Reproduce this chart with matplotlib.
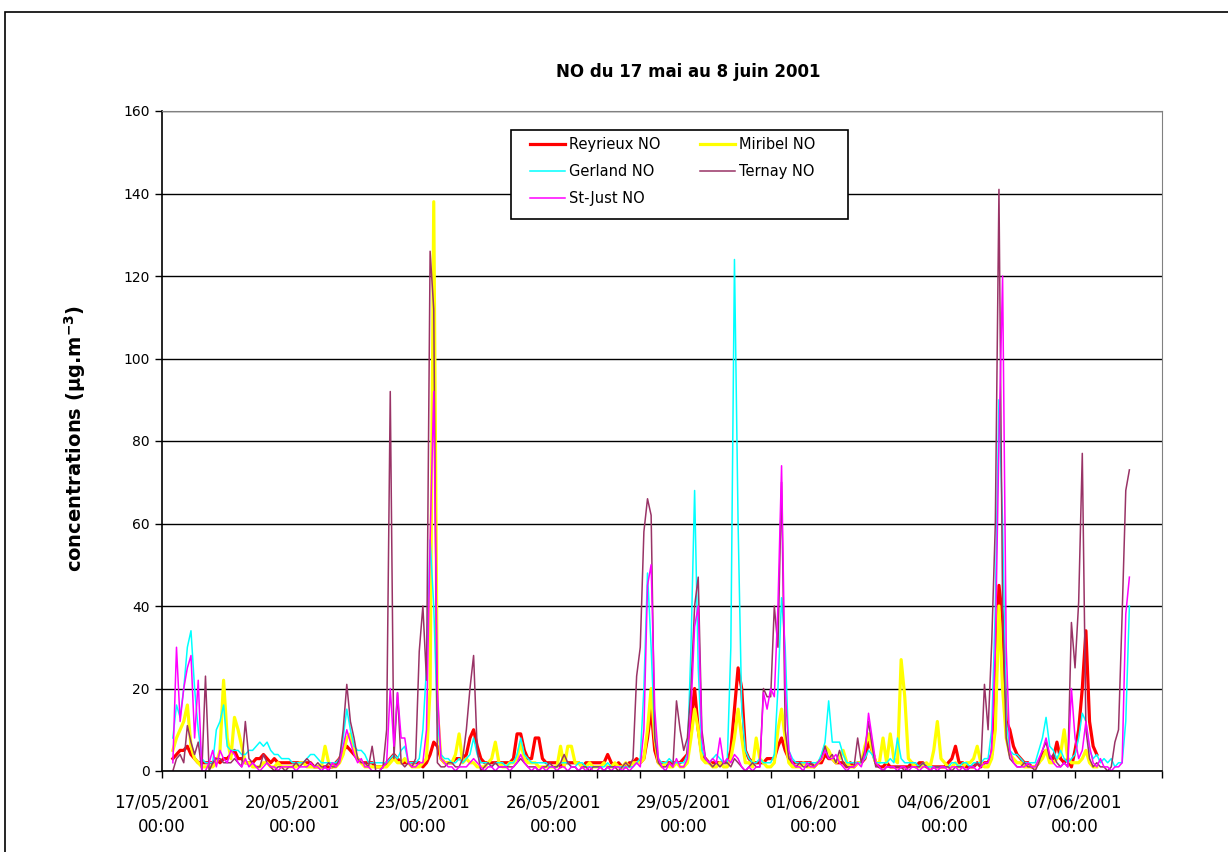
import numpy as np
import matplotlib
matplotlib.use("Agg")
import matplotlib.pyplot as plt
from matplotlib.patches import Rectangle
from matplotlib.ticker import MultipleLocator

nan = np.nan

# 2-hourly NO values (µg/m3), one row per day starting 17/05/2001 00:00
reyrieux = [
    nan, nan, nan, 3, 4, 5, 5, 6, 4, 3, 2, 2,
    2, 2, 2, 3, 2, 3, 3, 4, 5, 3, 3, 2,
    2, 2, 3, 3, 4, 3, 2, 3, 2, 2, 2, 2,
    2, 2, 2, 2, 2, 2, 1, 1, 1, 1, 1, 1,
    2, 3, 5, 6, 5, 4, 3, 2, 2, 2, 2, 1,
    1, 1, 2, 3, 4, 3, 2, 2, 2, 2, 2, 2,
    1, 2, 4, 7, 6, 3, 2, 2, 2, 3, 3, 3,
    4, 8, 10, 6, 3, 2, 2, 2, 2, 2, 2, 2,
    2, 3, 9, 9, 5, 3, 3, 8, 8, 3, 2, 2,
    2, 2, 1, 2, 2, 2, 2, 2, 1, 2, 2, 2,
    2, 2, 2, 4, 2, 1, 2, 1, 1, 2, 2, 3,
    2, 3, 8, 15, 5, 2, 2, 2, 2, 2, 2, 2,
    3, 4, 12, 20, 10, 4, 3, 2, 2, 2, 2, 2,
    2, 5, 15, 25, 20, 5, 3, 2, 2, 2, 2, 3,
    3, 3, 6, 8, 5, 3, 2, 2, 2, 2, 2, 2,
    1, 2, 2, 4, 3, 3, 2, 2, 2, 1, 2, 1,
    2, 2, 3, 7, 5, 2, 1, 1, 2, 1, 1, 1,
    1, 1, 1, 2, 1, 2, 2, 1, 1, 1, 1, 1,
    1, 2, 3, 6, 2, 2, 1, 1, 1, 2, 1, 2,
    2, 4, 15, 45, 37, 12, 10, 6, 4, 3, 2, 2,
    1, 1, 2, 4, 5, 3, 3, 7, 3, 2, 3, 1,
    5, 10, 20, 34, 12, 6, 4, nan, nan, nan, nan, nan,
    nan, nan, nan, nan,
]
miribel = [
    nan, nan, nan, 5, 8, 10, 12, 16, 6, 3, 2, 1,
    1, 1, 1, 2, 5, 22, 8, 3, 13, 10, 6, 2,
    2, 1, 1, 1, 2, 2, 1, 1, 2, 1, 1, 1,
    1, 1, 2, 2, 1, 1, 1, 1, 1, 6, 2, 1,
    1, 2, 4, 8, 9, 5, 3, 2, 1, 1, 1, 1,
    1, 1, 1, 2, 3, 2, 2, 3, 2, 1, 1, 1,
    2, 3, 20, 138, 15, 3, 2, 2, 2, 4, 9, 2,
    3, 2, 2, 1, 1, 1, 2, 3, 7, 2, 1, 1,
    2, 2, 3, 7, 3, 2, 2, 2, 1, 1, 1, 1,
    1, 1, 6, 1, 6, 6, 2, 2, 1, 1, 2, 1,
    1, 1, 2, 1, 1, 2, 1, 1, 2, 1, 2, 2,
    2, 3, 10, 20, 8, 2, 1, 2, 1, 1, 2, 1,
    1, 2, 8, 15, 10, 3, 2, 2, 1, 1, 2, 1,
    1, 3, 8, 15, 8, 2, 2, 1, 8, 3, 2, 1,
    1, 2, 10, 15, 8, 2, 1, 1, 1, 2, 1, 1,
    1, 2, 3, 6, 5, 3, 2, 3, 5, 2, 1, 1,
    2, 2, 6, 9, 5, 2, 2, 8, 2, 9, 3, 2,
    27, 18, 3, 2, 1, 1, 1, 2, 1, 5, 12, 3,
    2, 1, 1, 2, 1, 1, 2, 2, 3, 6, 2, 1,
    1, 3, 10, 40, 20, 8, 4, 3, 2, 2, 1, 1,
    1, 1, 2, 3, 5, 2, 2, 3, 4, 10, 3, 2,
    2, 2, 3, 5, 2, 1, 1, nan, nan, nan, nan, nan,
    nan, nan, nan, nan,
]
gerland = [
    nan, nan, nan, 8, 16, 13, 20, 30, 34, 20, 10, 3,
    2, 2, 2, 10, 12, 16, 6, 5, 5, 5, 4, 4,
    5, 5, 6, 7, 6, 7, 5, 4, 4, 3, 3, 3,
    2, 2, 2, 2, 3, 4, 4, 3, 2, 2, 2, 2,
    2, 3, 8, 15, 10, 6, 5, 5, 4, 2, 2, 2,
    2, 2, 2, 3, 4, 3, 5, 6, 2, 2, 2, 3,
    10, 25, 56, 40, 12, 4, 3, 3, 2, 2, 3, 2,
    3, 4, 8, 4, 2, 2, 2, 1, 2, 2, 2, 1,
    2, 2, 4, 8, 4, 3, 2, 2, 2, 2, 2, 1,
    1, 1, 2, 2, 2, 1, 1, 2, 2, 1, 1, 1,
    1, 1, 1, 2, 1, 1, 1, 1, 1, 1, 1, 2,
    3, 20, 48, 30, 8, 3, 2, 2, 3, 2, 2, 2,
    2, 4, 30, 68, 25, 5, 3, 2, 3, 4, 3, 2,
    2, 30, 124, 60, 15, 5, 3, 2, 2, 3, 2, 2,
    2, 4, 20, 42, 30, 5, 3, 2, 2, 2, 2, 2,
    2, 2, 4, 7, 17, 7, 7, 7, 4, 2, 2, 2,
    2, 2, 3, 5, 4, 2, 2, 2, 2, 3, 2, 8,
    3, 2, 2, 2, 2, 1, 2, 1, 1, 1, 1, 1,
    1, 1, 2, 2, 1, 2, 2, 1, 2, 2, 2, 3,
    3, 10, 40, 90, 60, 12, 5, 4, 4, 3, 2, 2,
    2, 2, 5, 8, 13, 6, 5, 3, 5, 3, 2, 3,
    4, 8, 14, 12, 5, 3, 4, 2, 3, 2, 3, 1,
    2, 2, 12, 40,
]
ternay = [
    nan, nan, nan, 0, 3, 4, 2, 11, 7, 4, 7, 0,
    23, 0, 2, 3, 3, 2, 2, 2, 3, 2, 1, 12,
    3, 2, 1, 1, 4, 2, 1, 0, 1, 1, 0, 1,
    1, 2, 1, 2, 3, 2, 1, 2, 1, 1, 2, 1,
    1, 3, 10, 21, 12, 8, 3, 2, 2, 1, 6, 0,
    0, 1, 10, 92, 3, 19, 2, 1, 2, 1, 3, 29,
    40, 22, 126, 112, 2, 1, 1, 2, 2, 1, 1, 3,
    10, 20, 28, 5, 0, 1, 2, 1, 2, 1, 1, 1,
    1, 1, 2, 3, 2, 1, 1, 1, 0, 1, 1, 2,
    1, 1, 2, 4, 2, 1, 1, 0, 1, 1, 0, 1,
    1, 1, 0, 1, 1, 1, 0, 1, 2, 1, 3, 23,
    30, 58, 66, 62, 8, 2, 1, 1, 2, 1, 17, 10,
    5, 8, 20, 40, 47, 10, 3, 2, 1, 2, 1, 2,
    2, 1, 3, 2, 1, 0, 1, 2, 1, 1, 20, 18,
    18, 40, 30, 70, 10, 3, 2, 1, 2, 1, 1, 2,
    1, 2, 3, 6, 3, 4, 2, 5, 2, 1, 1, 1,
    8, 2, 5, 12, 6, 1, 1, 0, 1, 1, 1, 1,
    1, 0, 1, 1, 1, 1, 2, 1, 0, 1, 1, 1,
    1, 1, 0, 1, 1, 1, 0, 1, 1, 2, 1, 21,
    10, 31, 60, 141, 40, 8, 3, 2, 1, 1, 2, 1,
    1, 0, 2, 5, 7, 3, 4, 2, 1, 2, 1, 36,
    25, 41, 77, 10, 3, 1, 2, 1, 1, 0, 1, 7,
    10, 38, 68, 73,
]
st_just = [
    nan, nan, nan, 2, 30, 12, 20, 25, 28, 8, 22, 0,
    0, 2, 5, 1, 5, 3, 2, 5, 4, 2, 1, 3,
    1, 2, 1, 0, 1, 2, 1, 1, 0, 1, 1, 1,
    1, 0, 1, 1, 1, 2, 1, 1, 0, 1, 0, 2,
    1, 2, 6, 10, 7, 4, 2, 3, 1, 1, 0, 0,
    0, 1, 2, 20, 6, 19, 8, 8, 2, 1, 1, 2,
    2, 10, 56, 92, 20, 3, 2, 1, 1, 0, 1, 1,
    1, 2, 3, 2, 1, 0, 1, 1, 0, 1, 1, 1,
    0, 1, 2, 4, 2, 1, 0, 1, 0, 1, 0, 1,
    1, 0, 1, 1, 0, 1, 1, 0, 1, 0, 1, 0,
    0, 1, 0, 1, 0, 1, 1, 0, 1, 0, 1, 2,
    1, 10, 45, 50, 15, 3, 1, 0, 2, 1, 3, 1,
    1, 3, 15, 35, 40, 8, 3, 2, 3, 2, 8, 2,
    3, 2, 4, 3, 1, 0, 1, 0, 1, 1, 19, 15,
    20, 18, 40, 74, 20, 5, 2, 1, 1, 0, 2, 1,
    1, 2, 3, 5, 3, 3, 4, 2, 1, 0, 1, 1,
    2, 1, 4, 14, 8, 2, 1, 0, 1, 1, 1, 0,
    1, 1, 0, 1, 1, 0, 1, 1, 0, 1, 0, 1,
    1, 0, 1, 1, 0, 1, 0, 1, 1, 0, 1, 2,
    2, 5, 30, 80, 120, 30, 5, 2, 1, 1, 1, 2,
    1, 1, 3, 5, 8, 4, 2, 1, 1, 2, 1, 20,
    8, 3, 5, 12, 6, 2, 1, 3, 1, 1, 0, 1,
    1, 2, 38, 47,
]

tick_labels = ["17/05/2001\n00:00", "20/05/2001\n00:00", "23/05/2001\n00:00",
               "26/05/2001\n00:00", "29/05/2001\n00:00", "01/06/2001\n00:00",
               "04/06/2001\n00:00", "07/06/2001\n00:00"]

days = np.arange(len(reyrieux)) * 2 / 24.0

plt.rcParams['font.family'] = ['DejaVu Sans']

fig = plt.figure(figsize=(12.28, 8.52), dpi=100)
ax = fig.add_axes([162 / 1228, 81 / 852, 1000 / 1228, 660 / 852])

# outer chart border
fig.patches.append(Rectangle((5 / 1228, -0.1), 2, 1.1 - 12 / 852, transform=fig.transFigure,
                             fill=False, edgecolor='black', linewidth=1.2))
# legend box
fig.patches.append(Rectangle((511 / 1228, 1 - 219 / 852), 337 / 1228, 89 / 852,
                             transform=fig.transFigure, facecolor='white',
                             edgecolor='black', linewidth=1.2))

l1, = ax.plot(days, reyrieux, color='#ff0000', lw=2.3, label='Reyrieux NO')
l2, = ax.plot(days, miribel, color='#ffff00', lw=2.3, label='Miribel NO')
l3, = ax.plot(days, gerland, color='#00ffff', lw=1.1, label='Gerland NO')
l4, = ax.plot(days, ternay, color='#993366', lw=1.1, label='Ternay NO')
l5, = ax.plot(days, st_just, color='#ff00ff', lw=1.1, label='St-Just NO')

ax.set_xlim(0, 23)
ax.set_ylim(0, 160)
ax.set_yticks(range(0, 161, 20))
ax.set_xticks(range(0, 22, 3))
ax.set_xticklabels(tick_labels, linespacing=1.5)
ax.xaxis.set_minor_locator(MultipleLocator(1))
ax.yaxis.grid(True, color='black', lw=1)
ax.set_axisbelow(True)
ax.tick_params(axis='x', which='both', direction='out', length=5, width=1, labelsize=12, pad=11)
ax.tick_params(axis='y', direction='out', length=5, width=1, labelsize=10, pad=4)
for s in ['top', 'right']:
    ax.spines[s].set_color('#808080')
for s in ['left', 'bottom']:
    ax.spines[s].set_color('black')
    ax.spines[s].set_linewidth(1.2)

fig.text(688 / 1228, 1 - 72 / 852, 'NO du 17 mai au 8 juin 2001', ha='center', va='center',
         fontsize=12, fontweight='bold')
fig.text(75 / 1228, 1 - 438 / 852, r'concentrations (µg.m$^{\mathbf{-3}}$)', ha='center', va='center',
         rotation=90, fontsize=14, fontweight='bold')

leg = fig.legend(handles=[l1, l3, l5, l2, l4], ncol=2, loc='upper left',
                 bbox_to_anchor=(530 / 1228, 1 - 137 / 852), borderaxespad=0, fontsize=10.5,
                 frameon=False, handlelength=2.4, borderpad=0,
                 columnspacing=2.65, handletextpad=0.3, labelspacing=0.84)

fig.savefig('out.png', dpi=100)
